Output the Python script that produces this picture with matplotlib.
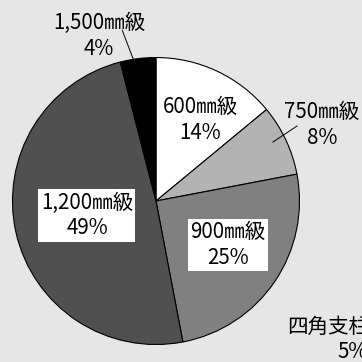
import matplotlib.pyplot as plt

plt.rcParams['font.family'] = ['Noto Sans CJK JP', 'DejaVu Sans']

# shares of each class (%), clockwise from the top
classes = ["600㎜級", "750㎜級", "900㎜級", "1,200㎜級", "1,500㎜級"]
shares = [14, 8, 25, 49, 4]
colors = ["#ffffff", "#b3b3b3", "#808080", "#505050", "#000000"]
extra_label = "四角支柱"
extra_share = 5

fig = plt.figure(figsize=(3.62, 3.62), dpi=100, facecolor="#e6e6e6")
ax = fig.add_axes([0.0345, 0.0483, 0.7928, 0.7928])
ax.set_facecolor("#e6e6e6")

ax.pie(shares, colors=colors, startangle=90, counterclock=False,
       wedgeprops=dict(edgecolor="black", linewidth=0.8))
ax.set_xlim(-1, 1)
ax.set_ylim(-1, 1)
ax.axis("off")

fs = 14.8
ls = 1.22
labels = [f"{c}\n{s}%" for c, s in zip(classes, shares)]

# labels inside the pie
ax.text(0.307, 0.564, labels[0], ha="center", va="center", fontsize=fs,
        linespacing=ls)
ax.text(0.502, -0.307, labels[2], ha="center", va="center", fontsize=fs,
        linespacing=ls,
        bbox=dict(boxstyle="square,pad=0.12", fc="white", ec="none"))
ax.text(-0.481, -0.101, labels[3], ha="center", va="center", fontsize=fs,
        linespacing=ls,
        bbox=dict(boxstyle="square,pad=0.12", fc="white", ec="none"))

# labels outside with leader lines
ax.text(1.157, 0.530, labels[1], ha="center", va="center", fontsize=fs,
        linespacing=ls, clip_on=False)
ax.plot([0.815, 0.983], [0.411, 0.523], color="black", lw=0.7, clip_on=False)
ax.text(-0.397, 1.150, labels[4], ha="center", va="center", fontsize=fs,
        linespacing=ls, clip_on=False)
ax.plot([-0.158, -0.235], [0.987, 1.190], color="black", lw=0.7, clip_on=False)

# cut off label in the lower right
ax.text(0.913, -0.878, extra_label, ha="left", va="center", fontsize=fs,
        clip_on=False)
ax.text(1.268, -1.052, f"{extra_share}%", ha="left", va="center", fontsize=fs,
        clip_on=False)

fig.savefig("out.png", dpi=100, facecolor=fig.get_facecolor())
